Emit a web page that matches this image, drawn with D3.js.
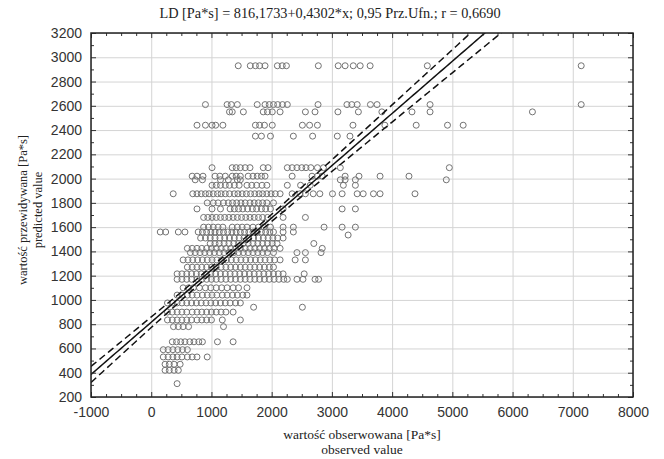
<!DOCTYPE html>
<html>
<head>
<meta charset="utf-8">
<script src="https://cdn.jsdelivr.net/npm/d3@7"></script>
<style>
    body { margin: 0; background: #fff; }
    svg { display: block; }
</style>
</head>
<body>
<svg id="chart"></svg>
<script>
'use strict';

const title = 'LD [Pa*s] = 816,1733+0,4302*x; 0,95 Prz.Ufn.; r = 0,6690';
const xTitle = ['wartość obserwowana [Pa*s]', 'observed value'];
const yTitle = ['wartość przewidywana [Pa*s]', 'predicted value'];

const xTicks = [-1000, 0, 1000, 2000, 3000, 4000, 5000, 6000, 7000, 8000];
const yTicks = [200, 400, 600, 800, 1000, 1200, 1400, 1600, 1800, 2000, 2200, 2400, 2600, 2800, 3000, 3200];

// regression from the title
const intercept = 816.1733;
const slope = 0.4302;

// 0.95 confidence band: narrowest half-width, where it is, how fast it opens
const bandMin = 25;
const bandCentre = 1400;
const bandSpread = 980;

// predicted value levels and the observed values that sit on each of them
const levels = [2930, 2610, 2550, 2440, 2350, 2090, 2020, 1990, 1945, 1875, 1800, 1750, 1680, 1600, 1560,
    1535, 1510, 1465, 1425, 1390, 1330, 1270, 1215, 1170, 1100, 1040, 975, 940, 900, 835, 780, 655, 590,
    530, 470, 420, 310];

const observed = [
    [1445, 1645, 1730, 1800, 1890, 2095, 2175, 2245, 2775, 3105, 3220, 3355, 3470, 3635, 4585, 7140],
    [900, 1260, 1330, 1430, 1760, 1890, 1960, 2030, 2100, 2180, 2260, 2770, 3250, 3330, 3420, 3640, 3750, 4630, 7140],
    [1300, 1345, 1530, 1860, 1930, 2010, 2140, 2560, 2720, 3100, 3440, 3830, 4330, 4630, 6330],
    [760, 900, 1010, 1070, 1190, 1730, 1800, 1880, 2010, 2510, 2630, 2760, 3350, 3880, 4400, 4920, 5180],
    [1730, 1830, 1980, 2360, 2680, 3090, 3300],
    [1010, 1345, 1410, 1480, 1560, 1640, 1860, 1940, 2260, 2340, 2420, 2500, 2570, 2650, 2760, 2860, 3140, 4950],
    [680, 760, 860, 1060, 1140, 1230, 1345, 1410, 1480, 1610, 1690, 1760, 1830, 1890, 2340, 2670, 2760, 2840,
        3220, 3450, 3800, 4280],
    [730, 850, 1150, 1280, 1430, 1480, 3140, 3220, 3390, 4900],
    [1010, 1080, 1150, 1230, 1300, 1380, 1460, 1590, 1670, 1750, 1840, 1920, 2260, 2480, 2640, 3190, 3390],
    [365, 690, 760, 830, 900, 960, 1030, 1100, 1160, 1230, 1300, 1380, 1440, 1510, 1580, 1650, 1720, 1790, 1850,
        1920, 1990, 2060, 2140, 2340, 2470, 2560, 2690, 2800, 3010, 3170, 3420, 3520, 3690, 3800, 4380],
    [930, 1030, 1110, 1200, 1280, 1350, 1420, 1490, 1560, 1640, 1710, 1780, 1850, 1920, 2030],
    [760, 1010, 1150, 1310, 1380, 1450, 1520, 1600, 1680, 1750, 1830, 1900, 1980, 2190, 3170, 3390],
    [870, 940, 1010, 1080, 1150, 1220, 1290, 1360, 1430, 1500, 1570, 1640, 1710, 1780, 1850, 1930, 2190, 2560],
    [870, 950, 1030, 1110, 1190, 1345, 1430, 1510, 1590, 1690, 1780, 1870, 1980, 2190, 2360, 2870, 3170, 3390],
    [150, 240, 450, 560, 780, 850, 920, 990, 1060, 1130, 1200, 1270, 1340, 1410, 1480, 1550, 1620, 1690, 1760,
        1830, 1900, 1970, 2030, 2190, 2360],
    [3270],
    [820, 900, 980, 1060, 1140, 1220, 1300, 1380, 1460, 1540, 1620, 1700, 1780, 1860, 1940, 2020, 2100, 2190],
    [980, 1060, 1130, 1210, 1290, 1370, 1450, 1530, 1610, 1690, 1770, 1850, 1930, 2010, 2090, 2700],
    [600, 680, 760, 840, 920, 1000, 1080, 1160, 1240, 1320, 1400, 1480, 1560, 1640, 1720, 1800, 1880, 1960, 2040,
        2140, 2840],
    [650, 730, 810, 890, 970, 1050, 1130, 1210, 1290, 1370, 1450, 1530, 1610, 1690, 1770, 1850, 1930, 2030, 2420,
        2560, 2820],
    [530, 610, 690, 770, 850, 930, 1010, 1090, 1170, 1250, 1330, 1410, 1490, 1570, 1650, 1730, 1810, 1890, 1970,
        2050, 2140, 2390, 2560],
    [600, 680, 760, 840, 920, 1000, 1080, 1160, 1240, 1320, 1400, 1480, 1560, 1640, 1720, 1800, 1880, 1960, 2030],
    [430, 510, 590, 670, 750, 830, 910, 990, 1070, 1150, 1230, 1310, 1390, 1470, 1550, 1630, 1710, 1790, 1870,
        1950, 2030, 2110, 2190, 2540],
    [430, 510, 590, 670, 760, 840, 920, 1000, 1080, 1160, 1240, 1320, 1400, 1480, 1560, 1640, 1720, 1800, 1880,
        1960, 2040, 2120, 2200, 2260, 2420, 2520, 2720, 2780],
    [530, 620, 700, 800, 900, 990, 1080, 1170, 1260, 1360, 1450, 1590],
    [430, 510, 600, 680, 760, 850, 930, 1010, 1090, 1180, 1260, 1350, 1430, 1520, 1590],
    [270, 350, 430, 510, 590, 670, 750, 830, 910, 990, 1070, 1150, 1230, 1310, 1400, 1480],
    [1700, 2510],
    [270, 350, 430, 510, 590, 680, 760, 840, 920, 1000, 1080, 1160, 1240, 1360],
    [270, 350, 430, 510, 590, 670, 760, 840, 920, 1000, 1180, 1480],
    [370, 450, 530, 620, 1200],
    [350, 420, 490, 560, 640, 710, 790, 850, 1100, 1360],
    [200, 280, 360, 440, 520, 600],
    [200, 280, 360, 430, 510, 600, 680, 760, 930],
    [230, 300, 380, 480],
    [230, 300, 380, 450],
    [430]
];

drawChart();

function drawChart() {
    const width = 664;
    const height = 459;
    const margin = {top: 33, right: 31, bottom: 62, left: 91};
    const w = width - margin.left - margin.right;
    const h = height - margin.top - margin.bottom;

    const points = levels.flatMap((lv, i) => observed[i].map(x => ({x: x, y: lv})));

    const x = d3.scaleLinear().domain([-1000, 8000]).range([0, w]);
    const y = d3.scaleLinear().domain([200, 3200]).range([h, 0]);

    const xMinor = d3.range(-1000, 8001, 250).filter(v => !xTicks.includes(v));
    const yMinor = d3.range(300, 3200, 200);

    const svg = d3.select('#chart')
        .attr('width', width)
        .attr('height', height);

    svg.append('rect')
        .attr('width', width)
        .attr('height', height)
        .attr('fill', '#fff');

    svg.append('text')
        .attr('x', 330)
        .attr('y', 18)
        .attr('text-anchor', 'middle')
        .attr('font-family', '"Liberation Serif", serif')
        .attr('font-size', 14.3)
        .attr('fill', '#222')
        .text(title);

    const g = svg.append('g')
        .attr('transform', `translate(${margin.left},${margin.top})`);

    svg.append('defs').append('clipPath')
        .attr('id', 'plot-clip')
        .append('rect')
        .attr('width', w)
        .attr('height', h);

    // grid
    g.append('g')
        .attr('transform', `translate(0,${h})`)
        .call(d3.axisBottom(x).tickValues(xTicks).tickSize(-h).tickFormat(''))
        .call(ax => ax.select('.domain').remove())
        .selectAll('line')
        .attr('stroke', '#d4d4d4');

    g.append('g')
        .call(d3.axisLeft(y).tickValues(yTicks).tickSize(-w).tickFormat(''))
        .call(ax => ax.select('.domain').remove())
        .selectAll('line')
        .attr('stroke', '#d4d4d4');

    // points
    g.append('g')
        .attr('fill', 'none')
        .attr('stroke', '#737373')
        .attr('stroke-width', 1)
        .selectAll('circle')
        .data(points)
        .join('circle')
        .attr('cx', d => x(d.x))
        .attr('cy', d => y(d.y))
        .attr('r', 3);

    // regression line and its confidence band
    const half = xv => bandMin * Math.sqrt(1 + ((xv - bandCentre) / bandSpread) ** 2);
    const xs = d3.range(-1000, 8001, 50);

    const fit = g.append('g')
        .attr('clip-path', 'url(#plot-clip)')
        .attr('fill', 'none')
        .attr('stroke', '#111');

    fit.append('path')
        .attr('stroke-width', 1.5)
        .attr('d', d3.line().x(d => x(d)).y(d => y(intercept + slope * d))(xs));

    [-1, 1].forEach(sign => {
        fit.append('path')
            .attr('stroke-width', 1.5)
            .attr('stroke-dasharray', '7,4')
            .attr('d', d3.line().x(d => x(d)).y(d => y(intercept + slope * d + sign * half(d)))(xs));
    });

    // ticks on all four sides, pointing inward
    const tickStyle = ax => {
        ax.select('.domain').remove();
        ax.selectAll('line').attr('stroke', '#333');
    };

    g.append('g').attr('transform', `translate(0,${h})`)
        .call(d3.axisBottom(x).tickValues(xMinor).tickSize(-3).tickFormat('')).call(tickStyle);
    g.append('g')
        .call(d3.axisTop(x).tickValues(xMinor).tickSize(-3).tickFormat('')).call(tickStyle);
    g.append('g')
        .call(d3.axisLeft(y).tickValues(yMinor).tickSize(-3).tickFormat('')).call(tickStyle);
    g.append('g').attr('transform', `translate(${w},0)`)
        .call(d3.axisRight(y).tickValues(yMinor).tickSize(-3).tickFormat('')).call(tickStyle);

    g.append('g').attr('transform', `translate(0,${h})`)
        .call(d3.axisBottom(x).tickValues(xTicks).tickSize(-5).tickPadding(10).tickFormat(d => String(d)))
        .call(tickStyle);
    g.append('g')
        .call(d3.axisTop(x).tickValues(xTicks).tickSize(-5).tickFormat('')).call(tickStyle);
    g.append('g')
        .call(d3.axisLeft(y).tickValues(yTicks).tickSize(-5).tickPadding(9).tickFormat(d => String(d)))
        .call(tickStyle);
    g.append('g').attr('transform', `translate(${w},0)`)
        .call(d3.axisRight(y).tickValues(yTicks).tickSize(-5).tickFormat('')).call(tickStyle);

    g.selectAll('.tick text')
        .attr('font-family', '"Liberation Sans", Arial, sans-serif')
        .attr('font-size', 14)
        .attr('fill', '#333');

    g.append('rect')
        .attr('width', w)
        .attr('height', h)
        .attr('fill', 'none')
        .attr('stroke', '#222')
        .attr('stroke-width', 1.5);

    // axis titles
    svg.selectAll('.x-title')
        .data(xTitle)
        .join('text')
        .attr('class', 'x-title')
        .attr('x', margin.left + w / 2)
        .attr('y', (d, i) => 439 + i * 15)
        .attr('text-anchor', 'middle')
        .attr('font-family', '"Liberation Serif", serif')
        .attr('font-size', 13.5)
        .attr('fill', '#222')
        .text(d => d);

    svg.selectAll('.y-title')
        .data(yTitle)
        .join('text')
        .attr('class', 'y-title')
        .attr('transform', (d, i) => `translate(${27 + i * 15},210) rotate(-90)`)
        .attr('text-anchor', 'middle')
        .attr('font-family', '"Liberation Serif", serif')
        .attr('font-size', 12.5)
        .attr('fill', '#222')
        .text(d => d);
}
</script>
</body>
</html>
